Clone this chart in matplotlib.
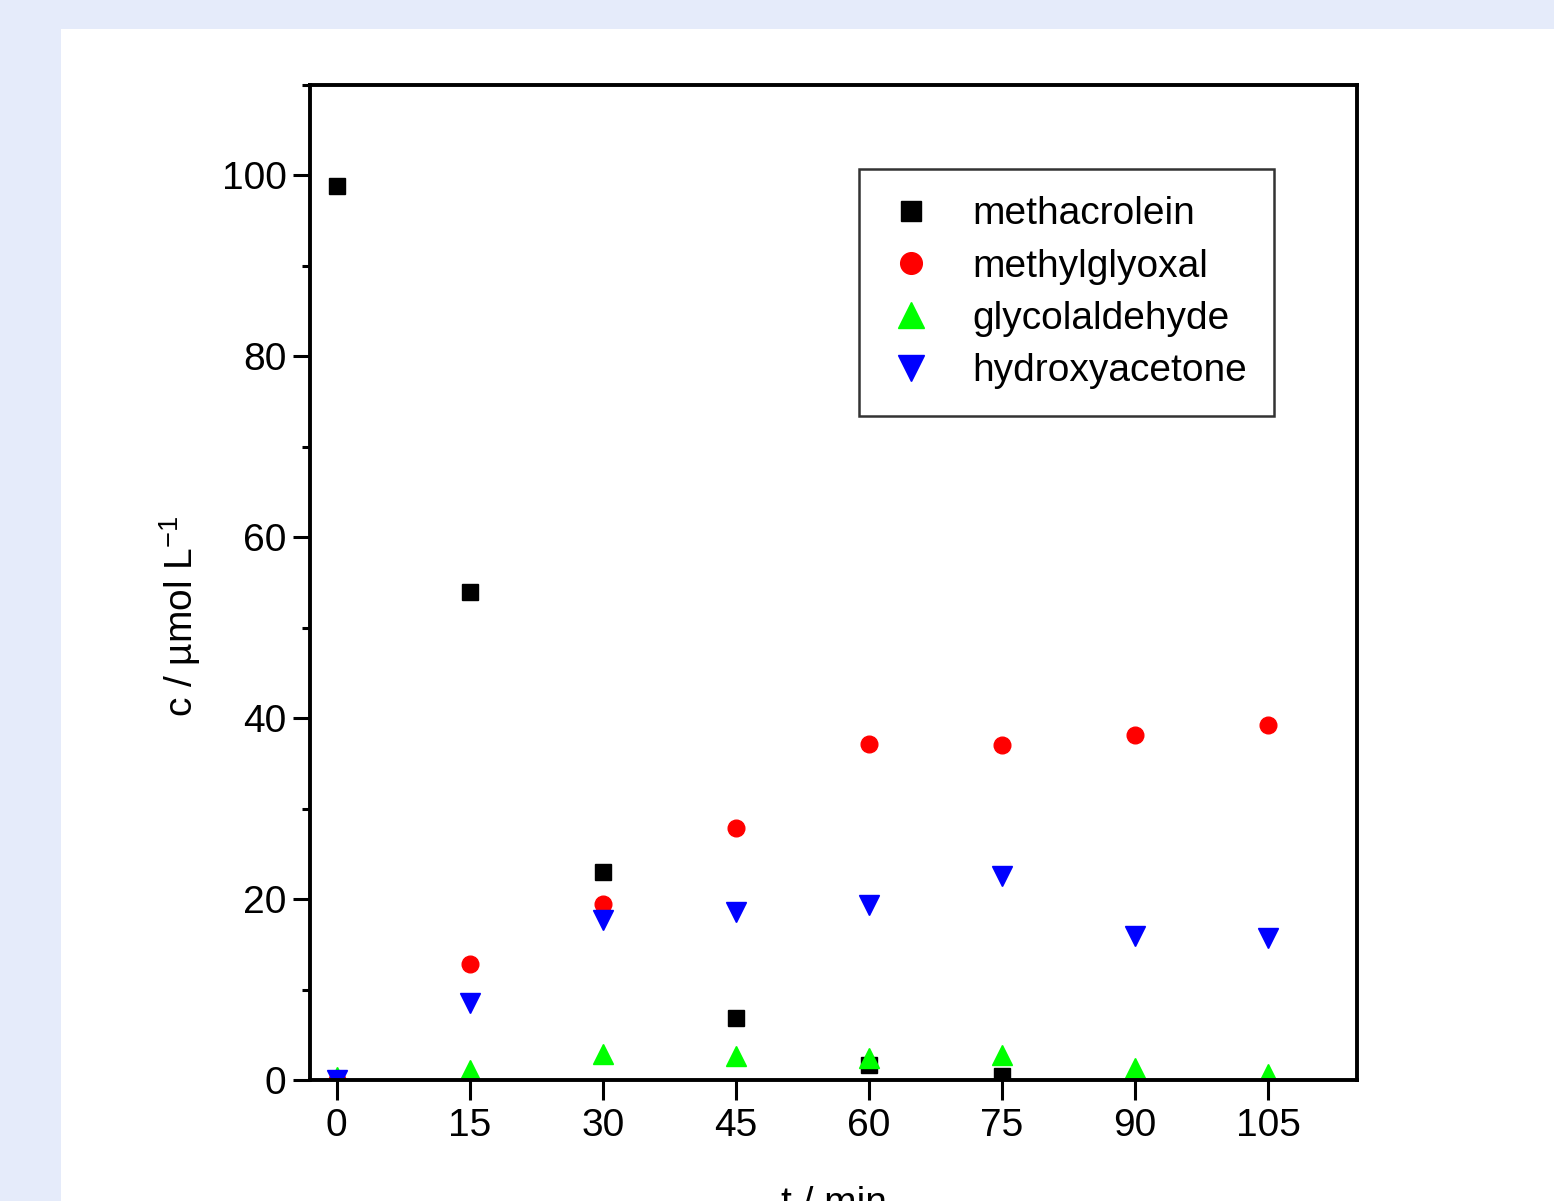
import numpy as np
import matplotlib.pyplot as plt
from matplotlib.patches import Rectangle

plt.rcParams['font.family'] = ['Liberation Sans', 'DejaVu Sans']

t = [0, 15, 30, 45, 60, 75, 90, 105]
methacrolein = [98.8, 53.9, 23.0, 6.8, 1.7, 0.4, np.nan, np.nan]
methylglyoxal = [0.0, 12.8, 19.5, 27.9, 37.1, 37.0, 38.1, 39.2]
glycolaldehyde = [0.3, 1.1, 2.9, 2.7, 2.4, 2.8, 1.3, 0.7]
hydroxyacetone = [0.0, 8.5, 17.7, 18.6, 19.4, 22.6, 15.9, 15.7]

fig = plt.figure(figsize=(15.54, 12.01), dpi=100, facecolor='#e5ebfa')
# white panel behind the axes
fig.patches.append(Rectangle((61 / 1554, 0), 1, 1 - 29 / 1201, transform=fig.transFigure,
                             facecolor='white', edgecolor='none', zorder=-10))

ax = fig.add_axes([310 / 1554, 121 / 1201, 1047 / 1554, 995 / 1201])
ax.set_facecolor('white')

ax.plot(t, methacrolein, ls='none', marker='s', ms=11, color='black', label='methacrolein')
ax.plot(t, methylglyoxal, ls='none', marker='o', ms=12, color='#ff0000', label='methylglyoxal')
ax.plot(t, glycolaldehyde, ls='none', marker='^', ms=14, color='#00ff00', label='glycolaldehyde')
ax.plot(t, hydroxyacetone, ls='none', marker='v', ms=14, color='#0000ff', label='hydroxyacetone')

ax.set_xlim(-3, 115)
ax.set_ylim(0, 110)
ax.set_xticks(t)
ax.set_yticks(np.arange(0, 101, 20))
ax.set_yticks(np.arange(10, 111, 20), minor=True)

for s in ax.spines.values():
    s.set_linewidth(2.8)
ax.tick_params(axis='x', which='major', direction='out', length=14.4, width=2.2,
               labelsize=28, pad=6)
ax.tick_params(axis='y', which='major', direction='out', length=12, width=2.2,
               labelsize=28, pad=5)
ax.tick_params(axis='y', which='minor', direction='out', length=6, width=2.2)

ax.set_xlabel('t / min', fontsize=28, labelpad=30)
ax.set_ylabel(r'c / µmol L$^{\mathregular{-1}}$', fontsize=28)
ax.yaxis.set_label_coords(-0.102, 0.466)

leg = ax.legend(loc='upper left', bbox_to_anchor=(0.5244, 0.9156), fontsize=28,
                frameon=True, fancybox=False, edgecolor='black', borderpad=0.7,
                handlelength=1.28, handletextpad=0.93, labelspacing=0.42,
                markerscale=1.3, borderaxespad=0)
leg.get_frame().set_linewidth(1.8)

fig.savefig('out.png', dpi=100, facecolor=fig.get_facecolor())
